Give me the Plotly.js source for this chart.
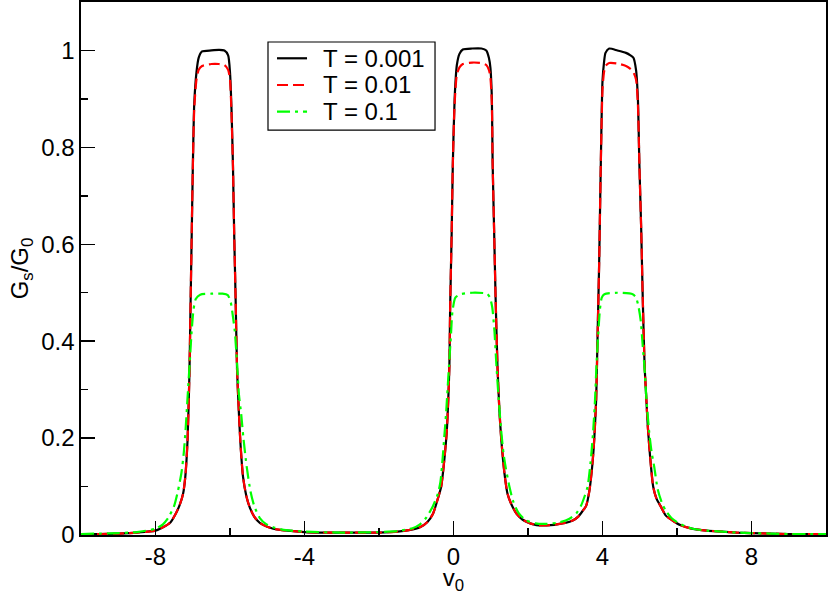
<!DOCTYPE html>
<html>
<head>
<meta charset="utf-8">
<script src="https://cdn.plot.ly/plotly-3.0.1.min.js"></script>
<style>html,body{margin:0;padding:0;background:#fff;}#chart{width:830px;height:595px;}</style>
</head>
<body>
<div id="chart"></div>
<script>
// T = 0.001
const x_T001 = [-10,-9.5,-9,-8.5,-8,-7.8,-7.6,-7.45,-7.35,-7.26,-7.2,-7.14,-7.09,-7.06,-7.03,-7.0,-6.96,-6.9,-6.84,-6.75,-6.5,-6.3,-6.15,-6.05,-6.0,-5.96,-5.92,-5.89,-5.85,-5.81,-5.76,-5.72,-5.65,-5.56,-5.47,-5.35,-5.2,-5.0,-4.84,-4.6,-4.3,-4,-3.5,-3,-2.5,-2,-1.5,-1.2,-0.9,-0.7,-0.55,-0.42,-0.33,-0.24,-0.18,-0.14,-0.11,-0.09,-0.05,-0.02,0.03,0.09,0.16,0.25,0.5,0.75,0.88,0.95,0.99,1.03,1.05,1.09,1.13,1.18,1.23,1.28,1.37,1.45,1.55,1.7,1.85,2.0,2.15,2.3,2.5,2.7,2.85,3.0,3.2,3.35,3.47,3.56,3.65,3.73,3.78,3.83,3.87,3.91,3.94,3.97,4.0,4.04,4.08,4.18,4.4,4.63,4.75,4.83,4.9,4.95,4.99,5.04,5.08,5.13,5.17,5.22,5.28,5.36,5.45,5.57,5.7,5.88,6.1,6.4,6.8,7.2,7.6,8,8.5,9,9.5,10];
const y_T001 = [0.002,0.002,0.003,0.005,0.009,0.016,0.026,0.045,0.062,0.085,0.12,0.195,0.33,0.47,0.61,0.75,0.89,0.955,0.985,0.998,1.0,1.001,1.0,0.99,0.955,0.88,0.76,0.63,0.49,0.34,0.25,0.19,0.12,0.08,0.057,0.038,0.025,0.017,0.013,0.01,0.008,0.006,0.005,0.005,0.005,0.005,0.007,0.01,0.016,0.027,0.044,0.075,0.1,0.16,0.215,0.28,0.35,0.47,0.62,0.76,0.9,0.97,0.993,1.002,1.004,1.004,1.0,0.985,0.965,0.9,0.77,0.63,0.49,0.35,0.26,0.2,0.126,0.085,0.064,0.043,0.032,0.026,0.022,0.02,0.02,0.021,0.023,0.025,0.03,0.038,0.05,0.06,0.092,0.147,0.2,0.28,0.42,0.56,0.7,0.834,0.937,0.975,0.995,1.004,1.0,0.995,0.99,0.985,0.96,0.9,0.765,0.628,0.49,0.35,0.29,0.22,0.16,0.1,0.075,0.058,0.04,0.03,0.02,0.013,0.009,0.007,0.005,0.004,0.003,0.002,0.002,0.002];

// T = 0.01
const x_T01 = x_T001;
const y_T01 = [0.002,0.002,0.003,0.005,0.009,0.016,0.026,0.045,0.062,0.085,0.12,0.195,0.33,0.47,0.61,0.75,0.88,0.94,0.96,0.968,0.972,0.972,0.97,0.96,0.94,0.87,0.76,0.63,0.49,0.34,0.25,0.19,0.12,0.08,0.057,0.038,0.025,0.017,0.013,0.01,0.008,0.006,0.005,0.005,0.005,0.005,0.007,0.01,0.016,0.027,0.044,0.075,0.1,0.16,0.215,0.28,0.35,0.47,0.62,0.76,0.89,0.95,0.965,0.972,0.975,0.974,0.97,0.96,0.945,0.89,0.77,0.63,0.49,0.35,0.26,0.2,0.126,0.085,0.064,0.043,0.032,0.026,0.022,0.02,0.02,0.021,0.023,0.025,0.03,0.038,0.05,0.06,0.092,0.147,0.2,0.28,0.42,0.56,0.7,0.83,0.92,0.955,0.968,0.974,0.973,0.968,0.962,0.955,0.94,0.89,0.765,0.628,0.49,0.35,0.29,0.22,0.16,0.1,0.075,0.058,0.04,0.03,0.02,0.013,0.009,0.007,0.005,0.004,0.003,0.002,0.002,0.002];

// T = 0.1
const x_T1 = [-10,-9.5,-9,-8.5,-8,-7.8,-7.66,-7.5,-7.4,-7.3,-7.24,-7.19,-7.15,-7.11,-7.07,-7.03,-6.98,-6.92,-6.8,-6.5,-6.2,-6.06,-5.98,-5.92,-5.87,-5.81,-5.76,-5.7,-5.64,-5.55,-5.45,-5.35,-5.2,-5.02,-4.8,-4.5,-4,-3,-2,-1.5,-1.1,-0.9,-0.72,-0.55,-0.42,-0.35,-0.29,-0.24,-0.2,-0.16,-0.12,-0.07,-0.03,0.05,0.2,0.5,0.9,0.98,1.04,1.1,1.15,1.21,1.28,1.34,1.4,1.5,1.6,1.75,1.95,2.2,2.5,2.84,3.1,3.3,3.42,3.52,3.6,3.68,3.75,3.8,3.84,3.89,3.93,3.98,4.05,4.4,4.81,4.9,4.97,5.03,5.08,5.12,5.18,5.25,5.32,5.39,5.48,5.6,5.7,5.85,6.01,6.2,6.42,6.8,7.2,7.6,8,8.5,9,9.5,10];
const y_T1 = [0.002,0.003,0.004,0.006,0.013,0.022,0.035,0.06,0.09,0.13,0.17,0.22,0.27,0.32,0.37,0.42,0.465,0.487,0.496,0.498,0.498,0.495,0.48,0.45,0.42,0.353,0.29,0.25,0.2,0.14,0.09,0.06,0.035,0.022,0.015,0.01,0.007,0.005,0.006,0.008,0.014,0.022,0.037,0.06,0.085,0.11,0.16,0.21,0.25,0.3,0.35,0.41,0.46,0.49,0.497,0.5,0.498,0.49,0.47,0.42,0.353,0.284,0.215,0.17,0.14,0.1,0.07,0.045,0.03,0.024,0.023,0.026,0.033,0.045,0.06,0.08,0.1,0.15,0.215,0.28,0.353,0.42,0.465,0.49,0.497,0.5,0.497,0.49,0.47,0.44,0.39,0.353,0.28,0.215,0.17,0.14,0.095,0.065,0.05,0.035,0.026,0.019,0.013,0.009,0.007,0.005,0.004,0.003,0.002,0.002,0.002];

const seriesNames = ["T = 0.001", "T = 0.01", "T = 0.1"];
const seriesColors = ["#000000", "#ff0000", "#00ff00"];
const seriesDash = ["solid", "11px,5px", "13px,5px,3px,5px"];

const xTicks = [-8, -4, 0, 4, 8];
const xTickText = ["-8", "-4", "0", "4", "8"];
const xMinorTicks = [-10, -6, -2, 2, 6, 10];
const yTicks = [0, 0.2, 0.4, 0.6, 0.8, 1];
const yTickText = ["0", "0.2", "0.4", "0.6", "0.8", "1"];
const yMinorTicks = [0.1, 0.3, 0.5, 0.7, 0.9, 1.1];

const FONT = "Liberation Sans, Arial, Helvetica, sans-serif";
const FS = 24;

const xs = [x_T001, x_T01, x_T1];
const ys = [y_T001, y_T01, y_T1];
const traces = seriesNames.map((n, i) => ({
  x: xs[i], y: ys[i], name: n, mode: "lines", showlegend: false,
  line: {color: seriesColors[i], width: 2.2, dash: seriesDash[i], shape: "spline", smoothing: 0.6}
}));
// empty traces that carry the overlay axes used for major and minor tick marks
traces.push({x: [], y: [], xaxis: "x2", yaxis: "y2", mode: "lines", showlegend: false, hoverinfo: "skip"});
traces.push({x: [], y: [], xaxis: "x3", yaxis: "y3", mode: "lines", showlegend: false, hoverinfo: "skip"});

// hand-built legend box (paper coordinates of the plot area)
const legBox = {x0: 0.251, x1: 0.4752, y0: 0.7598, y1: 0.925};
const legRowY = [0.8944, 0.8443, 0.7942];
const shapes = [{type: "rect", xref: "paper", yref: "paper", x0: legBox.x0, x1: legBox.x1, y0: legBox.y0, y1: legBox.y1,
  line: {color: "#000000", width: 1.2}, fillcolor: "#ffffff", layer: "above"}];
const annotations = [];
seriesNames.forEach((n, i) => {
  shapes.push({type: "line", xref: "paper", yref: "paper", x0: 0.2631, x1: 0.3034, y0: legRowY[i], y1: legRowY[i],
    line: {color: seriesColors[i], width: 2.2, dash: seriesDash[i]}, layer: "above"});
  annotations.push({xref: "paper", yref: "paper", x: 0.3225, y: legRowY[i], xanchor: "left", yanchor: "middle",
    text: n, showarrow: false, font: {family: FONT, size: FS, color: "#000000"}});
});

const tickFont = {family: FONT, size: FS, color: "#000000"};
function tickAxis(over, anchor, side, range, vals, len) {
  return {overlaying: over, anchor: anchor, side: side, range: range,
    tickmode: "array", tickvals: vals, showticklabels: false,
    ticks: "inside", ticklen: len, tickwidth: 1.5, tickcolor: "#000000",
    showline: false, showgrid: false, zeroline: false, automargin: false};
}
const layout = {
  width: 830, height: 595,
  margin: {l: 81, r: 4, t: 2, b: 60},
  paper_bgcolor: "#ffffff", plot_bgcolor: "#ffffff",
  font: {family: FONT, size: FS, color: "#000000"},
  showlegend: false,
  shapes: shapes,
  annotations: annotations,
  xaxis: {
    range: [-10, 10], tickmode: "array", tickvals: xTicks, ticktext: xTickText,
    ticks: "inside", ticklen: 14, tickwidth: 1.5, tickcolor: "#000000",
    showline: true, linecolor: "#000000", linewidth: 1.6, mirror: true,
    showgrid: false, zeroline: false, tickfont: tickFont,
    title: {text: "v<sub>0</sub>", font: {family: FONT, size: FS, color: "#000000"}, standoff: 3},
    automargin: false
  },
  yaxis: {
    range: [0, 1.1], tickmode: "array", tickvals: yTicks, ticktext: yTickText,
    ticks: "inside", ticklen: 14, tickwidth: 1.5, tickcolor: "#000000",
    showline: true, linecolor: "#000000", linewidth: 1.6, mirror: true,
    showgrid: false, zeroline: false, tickfont: tickFont,
    title: {text: "G<sub>s</sub>/G<sub>0</sub>", font: {family: FONT, size: FS, color: "#000000"}, standoff: 6},
    automargin: false
  },
  xaxis2: tickAxis("x", "y2", "bottom", [-10, 10], xTicks, 14),
  yaxis2: tickAxis("y", "x2", "left", [0, 1.1], yTicks, 14),
  xaxis3: tickAxis("x", "y3", "bottom", [-10, 10], xMinorTicks, 7),
  yaxis3: tickAxis("y", "x3", "left", [0, 1.1], yMinorTicks, 7)
};

Plotly.newPlot("chart", traces, layout, {staticPlot: true, displayModeBar: false});
</script>
</body>
</html>
